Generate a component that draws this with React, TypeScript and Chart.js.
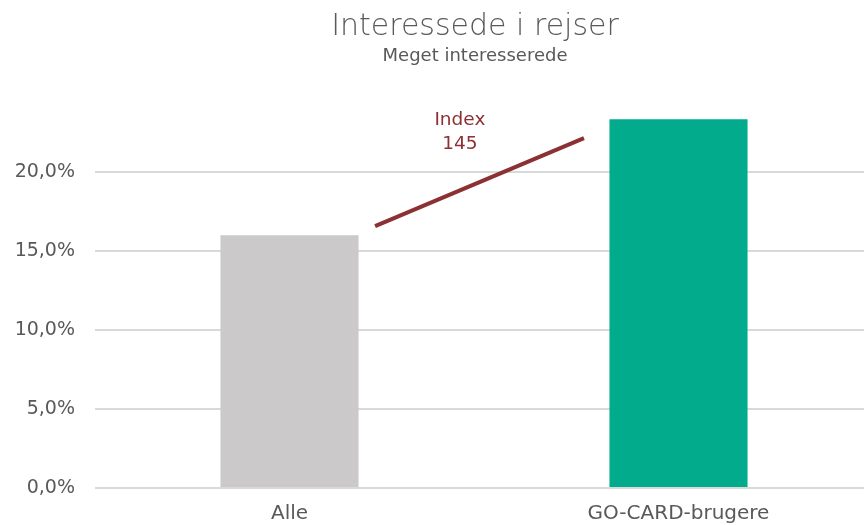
import React, { useEffect, useRef } from "react";
import { Chart, registerables } from "chart.js";

Chart.register(...registerables);

const categories = ["Alle", "GO-CARD-brugere"];
const shareValues = [16.0, 23.35];
const barColors = ["#CBC9CA", "#02AB8C"];
const yTicks = [0, 5, 10, 15, 20];
const indexLinePoints = [
  { x: 0.22, y: 16.58 },
  { x: 0.757, y: 22.15 },
];
const indexLabelLines = ["Index", "145"];
const indexLabelPos = { x: 0.438, y: 22.5 };
const titleText = "Interessede i rejser";
const subtitleText = "Meget interesserede";

const FONT = "'DejaVu Sans', 'Noto Sans', sans-serif";
const RED = "#8B3033";
const GREY_TEXT = "#595959";

const indexLabelPlugin = {
  id: "indexLabel",
  afterDatasetsDraw(chart: any) {
    const x2 = chart.scales.x2;
    const y = chart.scales.y;
    const ctx = chart.ctx;
    const px = x2.getPixelForValue(indexLabelPos.x);
    const py = y.getPixelForValue(indexLabelPos.y);
    ctx.save();
    ctx.fillStyle = RED;
    ctx.font = `18.5px ${FONT}`;
    ctx.textAlign = "center";
    ctx.textBaseline = "middle";
    const lh = 24;
    indexLabelLines.forEach((t, i) => {
      ctx.fillText(t, px, py - lh / 2 + i * lh);
    });
    ctx.restore();
  },
};

export default function App() {
  const ref = useRef<HTMLCanvasElement | null>(null);
  useEffect(() => {
    if (!ref.current) return;
    const chart = new Chart(ref.current, {
      type: "bar",
      data: {
        labels: categories,
        datasets: [
          {
            type: "line",
            data: indexLinePoints as any,
            xAxisID: "x2",
            yAxisID: "y",
            borderColor: RED,
            borderWidth: 4,
            pointRadius: 0,
            fill: false,
            order: 0,
          } as any,
          {
            type: "bar",
            data: shareValues,
            backgroundColor: barColors,
            barPercentage: 0.355,
            categoryPercentage: 1,
            grouped: false,
            xAxisID: "x",
            yAxisID: "y",
            order: 1,
          },
        ],
      },
      options: {
        responsive: false,
        animation: false,
        maintainAspectRatio: false,
        layout: { padding: 0 },
        plugins: {
          legend: { display: false },
          tooltip: { enabled: false },
          title: {
            display: true,
            text: titleText,
            color: GREY_TEXT,
            font: { family: FONT, size: 30, weight: "200" as any },
            padding: { top: 9, bottom: 0 },
          },
          subtitle: {
            display: true,
            text: subtitleText,
            color: GREY_TEXT,
            font: { family: FONT, size: 18, weight: "normal" },
            padding: { top: 1, bottom: 33.4 },
          },
        },
        scales: {
          x: {
            type: "category",
            grid: { display: false, drawTicks: false },
            border: { display: false },
            ticks: {
              color: GREY_TEXT,
              font: { family: FONT, size: 20 },
              padding: 14,
            },
            afterFit(scale: any) {
              scale.height = 37;
            },
          },
          x2: {
            type: "linear",
            display: false,
            offset: false,
            min: -0.5,
            max: 1.5,
          },
          y: {
            min: 0,
            max: 24.5,
            grid: { color: "#D9D9D9", lineWidth: 2, drawTicks: false },
            border: { display: false },
            ticks: {
              stepSize: 5,
              color: GREY_TEXT,
              font: { family: FONT, size: 19 },
              padding: 20,
              callback: (v: any) => Number(v).toFixed(1).replace(".", ",") + "%",
            },
            afterBuildTicks(scale: any) {
              scale.ticks = yTicks.map((v) => ({ value: v }));
            },
            afterFit(scale: any) {
              scale.width = 95;
            },
          },
          yRight: {
            type: "linear",
            position: "right",
            display: true,
            grid: { display: false, drawTicks: false },
            border: { display: false },
            ticks: { display: false },
            afterFit(scale: any) {
              scale.width = 77;
            },
          },
        },
      },
      plugins: [indexLabelPlugin],
    });
    return () => chart.destroy();
  }, []);
  return (
    <div
      style={{
        position: "fixed",
        left: 0,
        top: 0,
        width: 864,
        height: 525,
        overflow: "hidden",
        background: "#fff",
      }}
    >
      <canvas ref={ref} width={950} height={525} style={{ display: "block" }} />
    </div>
  );
}
